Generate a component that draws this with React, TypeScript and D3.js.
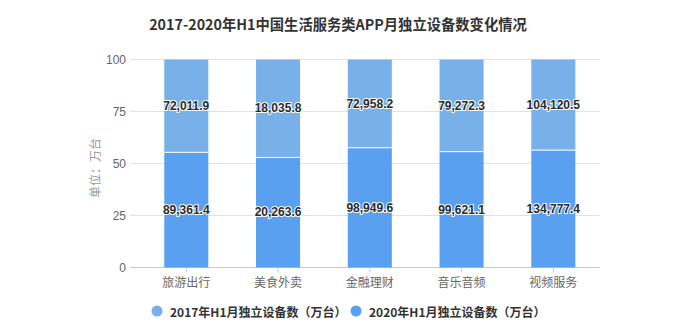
import React from "react";
import * as d3 from "d3";

const categories = ["旅游出行", "美食外卖", "金融理财", "音乐音频", "视频服务"];
const series2017 = [72011.9, 18035.8, 72958.2, 79272.3, 104120.5];
const series2020 = [89361.4, 20263.6, 98949.6, 99621.1, 134777.4];
const yTicks = [0, 25, 50, 75, 100];
const seriesNames = ["2017年H1月独立设备数（万台）", "2020年H1月独立设备数（万台）"];
const title = "2017-2020年H1中国生活服务类APP月独立设备数变化情况";
const yTitle = "单位：万台";

const W = 691;
const H = 333;
const COLOR_TOP = "#78b1e9";
const COLOR_BOTTOM = "#5aa0f0";
const FONT = "'Liberation Sans', Arial, 'Noto Sans CJK SC', sans-serif";
const CJK = "'Noto Sans CJK SC', 'Liberation Sans', sans-serif";

export default function App() {
  const x = d3
    .scaleBand<string>()
    .domain(categories)
    .range([140.4, 599.2])
    .paddingInner(0.52)
    .paddingOuter(0.26);
  const y = d3.scaleLinear().domain([0, 100]).range([267.5, 59.5]);
  const fmt = d3.format(",.1f");

  const rows = categories.map((c, i) => {
    const total = series2017[i] + series2020[i];
    const pBottom = (series2020[i] / total) * 100;
    return { c, i, pBottom, total };
  });

  const outline = (props: any, txt: string) => (
    <g>
      <text {...props} stroke="#fff" strokeWidth={2} strokeLinejoin="round" fill="#fff">
        {txt}
      </text>
      <text {...props} fill="#2a2a2a">
        {txt}
      </text>
    </g>
  );

  return (
    <svg
      width={W}
      height={H}
      style={{ position: "absolute", left: 0, top: 0, background: "#fff" }}
    >
      <rect width={W} height={H} fill="#fff" />
      <text
        x={338}
        y={23.5}
        textAnchor="middle"
        dominantBaseline="central"
        fontFamily={CJK}
        fontWeight="bold"
        fontSize={14.3}
        fill="#333"
      >
        {title}
      </text>
      {yTicks.map((t) => (
        <g key={t}>
          <line x1={130} x2={600} y1={y(t)} y2={y(t)} stroke={t === 0 ? "#c8c8c8" : "#e2e2e2"} strokeWidth={1} />
          <text
            x={126}
            y={y(t)}
            textAnchor="end"
            dominantBaseline="central"
            fontFamily={FONT}
            fontSize={12}
            fill="#666"
          >
            {t}
          </text>
        </g>
      ))}
      <text
        transform={`translate(94,${168}) rotate(-90)`}
        textAnchor="middle"
        dominantBaseline="central"
        fontFamily={CJK}
        fontSize={12}
        fill="#999"
      >
        {yTitle}
      </text>
      {rows.map(({ c, i, pBottom }) => {
        const x0 = x(c)!;
        const bw = x.bandwidth();
        const cx = x0 + bw / 2;
        return (
          <g key={c}>
            <rect x={x0} y={y(100)} width={bw} height={y(pBottom) - y(100)} fill={COLOR_TOP} />
            <rect x={x0} y={y(pBottom)} width={bw} height={y(0) - y(pBottom)} fill={COLOR_BOTTOM} />
            <line x1={x0} x2={x0 + bw} y1={y(pBottom)} y2={y(pBottom)} stroke="#fff" strokeWidth={1} />
            {outline(
              {
                x: cx,
                y: (y(100) + y(pBottom)) / 2,
                textAnchor: "middle",
                dominantBaseline: "central",
                fontFamily: FONT,
                fontWeight: "bold",
                fontSize: 12,
              },
              fmt(series2017[i])
            )}
            {outline(
              {
                x: cx,
                y: (y(pBottom) + y(0)) / 2,
                textAnchor: "middle",
                dominantBaseline: "central",
                fontFamily: FONT,
                fontWeight: "bold",
                fontSize: 12,
              },
              fmt(series2020[i])
            )}
            <line x1={cx} x2={cx} y1={y(0)} y2={y(0) + 5} stroke="#c8c8c8" />
            <text
              x={cx}
              y={281}
              textAnchor="middle"
              dominantBaseline="central"
              fontFamily={CJK}
              fontSize={12}
              fill="#666"
            >
              {c}
            </text>
          </g>
        );
      })}
      {seriesNames.map((n, k) => {
        const lx = k === 0 ? 157 : 356;
        return (
          <g key={n}>
            <circle cx={lx} cy={311} r={5.5} fill={k === 0 ? COLOR_TOP : COLOR_BOTTOM} />
            <text
              x={lx + 13}
              y={311}
              dominantBaseline="central"
              fontFamily={CJK}
              fontWeight="bold"
              fontSize={12}
              fill="#333"
            >
              {n}
            </text>
          </g>
        );
      })}
    </svg>
  );
}
